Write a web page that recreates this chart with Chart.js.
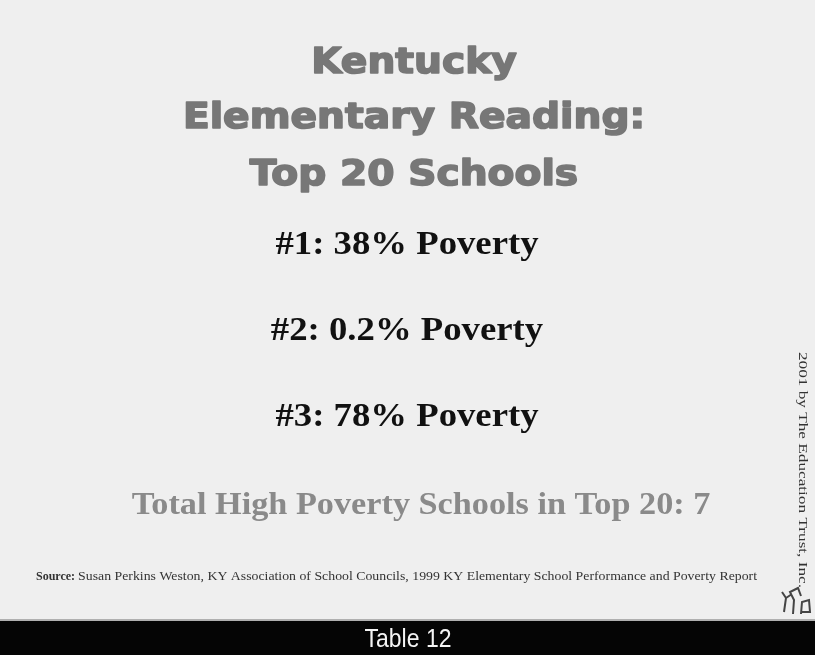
<!DOCTYPE html>
<html>
<head>
  <title>Kentucky Elementary Reading: Top 20 Schools</title>
  <script src="https://cdn.jsdelivr.net/npm/chart.js"></script>
  <style>
    body {
      margin: 0;
      background: #efefef;
    }

    #slide {
      width: 815px;
      height: 655px;
    }
  </style>
</head>
<body>
  <div id="slide">
    <canvas id="slideChart"></canvas>
  </div>

  <script>
    const titleLines = ["Kentucky", "Elementary Reading:", "Top 20 Schools"];
    const schoolRanks = ["#1", "#2", "#3"];
    const povertyRates = [38, 0.2, 78];
    const highPovertyInTop20 = 7;
    const sourceLabel = "Source:";
    const sourceText = "Susan Perkins Weston, KY Association of School Councils, 1999 KY Elementary School Performance and Poverty Report";
    const creditText = "2001 by The Education Trust, Inc.";
    const footerLabel = "Table 12";

    // draws a line of text squeezed/stretched to a given width
    function fitText(ctx, text, x, y, width) {
      const w = ctx.measureText(text).width;
      ctx.save();
      ctx.translate(x, y);
      ctx.scale(width / w, 1);
      ctx.fillText(text, 0, 0);
      ctx.restore();
    }

    // centred text with a horizontal stretch, optional extra weight
    function wideText(ctx, text, x, y, sx, stroke) {
      ctx.save();
      ctx.translate(x, y);
      ctx.scale(sx, 1);
      if (stroke) {
        ctx.lineWidth = stroke;
        ctx.lineJoin = "round";
        ctx.strokeStyle = ctx.fillStyle;
        ctx.strokeText(text, 0, 0);
      }
      ctx.fillText(text, 0, 0);
      ctx.restore();
    }

    const slidePlugin = {
      id: "slideText",
      beforeDraw(chart) {
        const ctx = chart.ctx;
        ctx.save();
        ctx.fillStyle = "#efefef";
        ctx.fillRect(0, 0, chart.width, chart.height);
        ctx.restore();
      },
      afterDraw(chart) {
        const ctx = chart.ctx;
        const cx = 410;
        ctx.save();
        ctx.textAlign = "center";
        ctx.textBaseline = "alphabetic";

        // title
        ctx.fillStyle = "#777";
        ctx.font = "bold 35px 'DejaVu Sans'";
        const titleBase = [73, 128, 185];
        titleLines.forEach((line, i) => {
          wideText(ctx, line, 414, titleBase[i], 1.12, 1.6);
        });

        // ranked schools
        ctx.fillStyle = "#111";
        ctx.font = "bold 34px 'Liberation Serif'";
        schoolRanks.forEach((rank, i) => {
          wideText(ctx, `${rank}: ${povertyRates[i]}% Poverty`, 407, 254 + i * 86, 1.08, 0);
        });

        // total
        ctx.fillStyle = "#8a8a8a";
        ctx.font = "bold 32px 'Liberation Serif'";
        wideText(ctx, `Total High Poverty Schools in Top 20: ${highPovertyInTop20}`, 421, 514, 1.07, 0);

        // source line
        ctx.textAlign = "left";
        ctx.fillStyle = "#333";
        ctx.font = "bold 12px 'Liberation Serif'";
        const lw = ctx.measureText(sourceLabel + " ").width;
        ctx.fillText(sourceLabel, 36, 580);
        ctx.font = "12px 'Liberation Serif'";
        fitText(ctx, sourceText, 36 + lw, 580, 757 - 36 - lw);

        // credit, rotated
        ctx.save();
        ctx.translate(799, 352);
        ctx.rotate(Math.PI / 2);
        ctx.font = "12px 'Liberation Serif'";
        ctx.fillStyle = "#333";
        fitText(ctx, creditText, 0, 0, 236);
        ctx.restore();

        // little logo doodle
        ctx.strokeStyle = "#444";
        ctx.lineWidth = 2;
        ctx.beginPath();
        ctx.moveTo(784, 612); ctx.lineTo(786, 598); ctx.lineTo(782, 592);
        ctx.moveTo(786, 598); ctx.lineTo(792, 594);
        ctx.moveTo(793, 614); ctx.lineTo(794, 600); ctx.lineTo(790, 592); ctx.lineTo(798, 588); ctx.lineTo(801, 596);
        ctx.moveTo(801, 614); ctx.lineTo(802, 602); ctx.lineTo(809, 600); ctx.lineTo(810, 612); ctx.lineTo(802, 612);
        ctx.stroke();

        // footer bar
        ctx.fillStyle = "#b0b0b0";
        ctx.fillRect(0, 619, chart.width, 2);
        ctx.fillStyle = "#050505";
        ctx.fillRect(0, 621, chart.width, chart.height - 621);
        ctx.fillStyle = "#f4f4f4";
        ctx.textAlign = "center";
        ctx.font = "25px 'Liberation Sans'";
        wideText(ctx, footerLabel, 408, 647, 0.92, 0);

        ctx.restore();
      }
    };

    new Chart(document.getElementById("slideChart"), {
      type: "bar",
      data: {
        labels: [],
        datasets: []
      },
      options: {
        responsive: true,
        maintainAspectRatio: false,
        animation: false,
        layout: { padding: 0 },
        scales: {
          x: { display: false },
          y: { display: false }
        },
        plugins: {
          legend: { display: false },
          tooltip: { enabled: false },
          title: { display: false }
        }
      },
      plugins: [slidePlugin]
    });
  </script>
</body>
</html>
